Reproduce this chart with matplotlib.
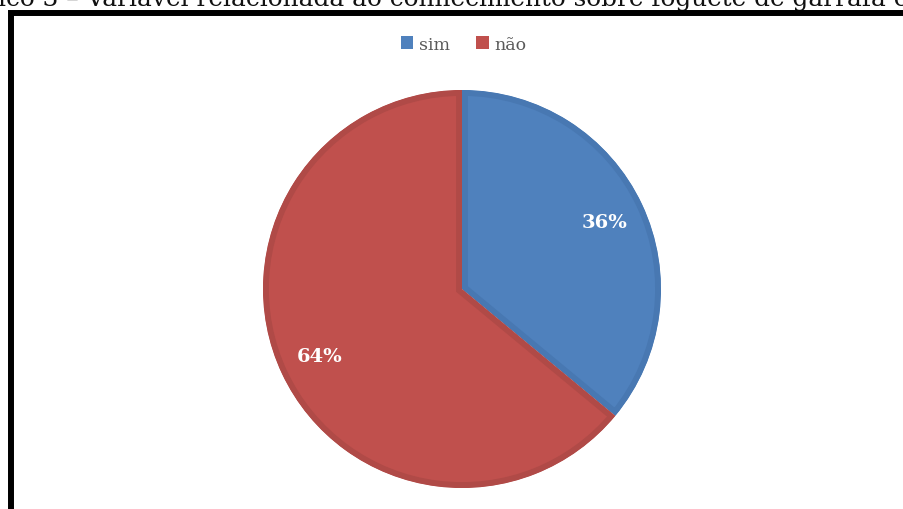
import numpy as np
import matplotlib as mpl
from matplotlib import pyplot as plt
from matplotlib.patches import Rectangle, Patch

# data
categories = ['sim', 'não']
shares = [36, 64]
pieColors = ['#4F81BD', '#C0504D']
rimColors = ['#4878B2', '#B04A47']
titleText = 'ico 3 – Variável relacionada ao conhecimento sobre foguete de garrafa e'

W, H = 904, 510
f = plt.figure(figsize = (W / 100.0, H / 100.0), dpi = 100)
f.patch.set_facecolor('white')

# title line from the page, cut at the top edge
f.text(-2.0 / W, 1.0 - 6.0 / H, titleText, fontsize = 17.8,
       family = 'DejaVu Serif', color = '#111111',
       ha = 'left', va = 'baseline')

# thick black frame of the chart
frame = Rectangle((11.0 / W, -0.2), 1.2, 1.0 - 13.5 / H + 0.2,
                  transform = f.transFigure, fill = False,
                  edgecolor = 'black', lw = 4.3, zorder = 5)
f.patches.append(frame)

# pie axes
cx, cy, R = 462.0, 290.0, 199.0
ax = f.add_axes([(cx - R) / W, (H - cy - R) / H, 2 * R / W, 2 * R / H])
wedges, texts, autotexts = ax.pie(shares, colors = pieColors, startangle = 90,
                                  counterclock = False, radius = 1.0,
                                  autopct = '%1.0f%%', pctdistance = 0.79,
                                  textprops = {'color': 'white', 'fontsize': 14,
                                               'fontweight': 'bold',
                                               'family': 'DejaVu Serif'})
# darker rim inside each slice: stroke clipped to the slice itself
for w, rc in zip(wedges, rimColors):
    w.set_edgecolor(rc)
    w.set_linewidth(8.5)
    w.set_clip_path(w)
    w.set_clip_on(True)
ax.set_xlim(-1.0, 1.0)
ax.set_ylim(-1.0, 1.0)
ax.set_aspect('equal')
ax.axis('off')

# legend
handles = [Patch(facecolor = c, edgecolor = 'none') for c in pieColors]
leg = f.legend(handles, categories, loc = 'center',
               bbox_to_anchor = (464.0 / W, 1.0 - 45.0 / H),
               ncol = 2, frameon = False, handlelength = 0.7, handleheight = 0.7,
               handletextpad = 0.35, columnspacing = 1.5,
               prop = {'family': 'DejaVu Serif', 'size': 12.5})
for t in leg.get_texts():
    t.set_color('#595959')

f.savefig('out.png', dpi = 100)
